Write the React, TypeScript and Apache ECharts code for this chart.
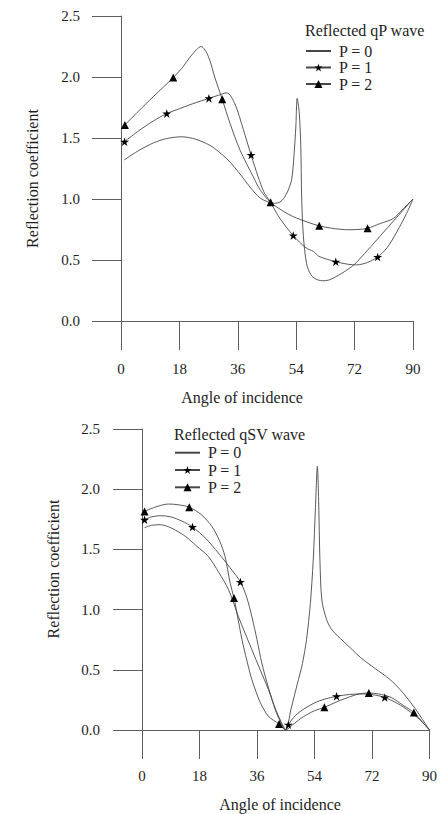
import React, { useEffect, useRef } from "react";
import * as echarts from "echarts";

// Angle of incidence (degrees) vs reflection coefficient, sampled along each curve.
const angleTicks = [0, 18, 36, 54, 72, 90];

// Reflected qP wave
const qpP0: number[][] = [
  [1, 1.32], [5, 1.39], [10, 1.46], [14, 1.495], [18.7, 1.51], [23, 1.49], [27.4, 1.44],
  [30, 1.39], [32.6, 1.33], [35, 1.26], [37.7, 1.17], [40, 1.09], [42.8, 1.01], [45.4, 0.975],
  [47.5, 0.965], [49, 0.975], [50.3, 1.01], [51.5, 1.07], [52.6, 1.16], [53.3, 1.35],
  [53.9, 1.6], [54.3, 1.825], [54.9, 1.72], [55.4, 1.45], [55.7, 1.0], [56.2, 0.7],
  [57.2, 0.47], [58.5, 0.38], [60, 0.345], [62, 0.33], [64, 0.335], [66, 0.36],
  [68, 0.39], [70, 0.425], [72, 0.465], [76, 0.58], [80, 0.7], [84, 0.82], [87, 0.91], [90, 1.0],
];
const qpP1: number[][] = [
  [5, 1.55], [10, 1.64], [18, 1.74], [22, 1.78], [30, 1.85], [32.6, 1.87], [35.1, 1.78],
  [37.7, 1.57], [42.3, 1.18], [44, 1.06], [45.9, 0.98], [49, 0.84], [57, 0.6], [59.3, 0.57],
  [61, 0.53], [70, 0.465], [72.6, 0.46], [76, 0.48], [82, 0.6], [85, 0.73], [88, 0.88], [90, 1.0],
];
const qpP1Marks: number[][] = [
  [1.1, 1.47], [14.1, 1.7], [27.1, 1.825], [40.1, 1.36], [53.1, 0.7], [66.2, 0.486], [79.1, 0.525],
];
const qpP2: number[][] = [
  [5, 1.71], [10, 1.84], [18.7, 2.07], [21.8, 2.18], [24.7, 2.25], [26.9, 2.17], [29, 1.99],
  [33.6, 1.62], [36.7, 1.4], [40.8, 1.18], [43, 1.07], [50, 0.9], [53.1, 0.855], [57.5, 0.81],
  [65, 0.76], [70, 0.748], [73, 0.75], [80, 0.8], [83.9, 0.84], [87, 0.92], [90, 1.0],
];
const qpP2Marks: number[][] = [
  [1.2, 1.607], [16.1, 1.995], [31.2, 1.817], [46.1, 0.973], [61.1, 0.78], [76, 0.76],
];

// Reflected qSV wave
const qsvP0: number[][] = [
  [0.8, 1.68], [3, 1.7], [5.7, 1.705], [9, 1.68], [13.5, 1.61], [17, 1.53], [20.8, 1.44],
  [24, 1.31], [27.1, 1.165], [30.2, 0.94], [34.4, 0.667], [37, 0.5], [39.6, 0.335],
  [42, 0.16], [43.7, 0.06], [45, 0], [46.7, 0.18], [48.6, 0.38], [50.2, 0.55], [51.5, 0.75],
  [52.7, 1.05], [53.6, 1.41], [54.3, 1.85], [54.9, 2.19], [55.3, 1.9], [55.7, 1.41],
  [56.3, 1.08], [57.8, 0.916], [59.5, 0.83], [62.9, 0.74], [65.5, 0.675], [68.5, 0.6],
  [73, 0.51], [77.6, 0.42], [81, 0.33], [84.9, 0.2], [87.5, 0.1], [90, 0],
];
const qsvP1: number[][] = [
  [3, 1.77], [5.7, 1.78], [9, 1.77], [12.5, 1.735], [20, 1.59], [23.9, 1.47], [27.5, 1.35],
  [32.8, 1.1], [34.4, 0.94], [36, 0.75], [37.5, 0.556], [39.6, 0.35], [41.7, 0.17],
  [43.5, 0.06], [45, 0], [48, 0.12], [51, 0.18], [54, 0.225], [57, 0.255], [65, 0.295],
  [69.3, 0.3], [73, 0.29], [80, 0.22], [84, 0.15], [87, 0.085], [90, 0],
];
const qsvP1Marks: number[][] = [
  [0.8, 1.747], [15.8, 1.686], [30.8, 1.23], [45.8, 0.044], [60.9, 0.28], [76, 0.27],
];
const qsvP2: number[][] = [
  [4, 1.85], [8.3, 1.877], [11.5, 1.87], [18.5, 1.79], [21.9, 1.69], [24.3, 1.57], [26, 1.44],
  [27.6, 1.22], [30, 0.93], [31.3, 0.75], [32.8, 0.58], [34.4, 0.418], [37, 0.23],
  [39.6, 0.113], [45, 0], [47, 0.04], [50.5, 0.11], [54, 0.16], [61, 0.235], [65, 0.275],
  [68, 0.3], [74, 0.3], [78, 0.27], [82, 0.2], [88, 0.06], [90, 0],
];
const qsvP2Marks: number[][] = [
  [0.8, 1.815], [14.8, 1.85], [28.8, 1.096], [42.9, 0.05], [57.1, 0.188], [71, 0.307], [85.1, 0.146],
];

const seriesNames = ["P = 0", "P = 1", "P = 2"];
const panelTitles = ["Reflected qP wave", "Reflected qSV wave"];
const xName = "Angle of incidence";
const yName = "Reflection coefficient";

const FONT = "'Liberation Serif', 'Times New Roman', serif";
const INK = "#1e1e1e";
const LINE = "#474747";
const AXIS = "#5e5e5e";
const STAR =
  "path://M0,-10L2.245,-3.09L9.51,-3.09L3.633,1.18L5.88,8.09L0,3.82L-5.88,8.09L-3.633,1.18L-9.51,-3.09L-2.245,-3.09Z";

// Curve samples drawn without symbols; marker points carry the series symbol.
function withMarks(curve: number[][], marks: number[][]) {
  const items: any[] = curve
    .filter(([x]) => !marks.some(([mx]) => Math.abs(mx - x) < 0.6))
    .map((p) => ({ value: p, symbol: "none" }));
  marks.forEach((p) => items.push({ value: p }));
  items.sort((a, b) => a.value[0] - b.value[0]);
  return items;
}

function lineSeries(name: string, idx: number, data: any[], symbol: string) {
  return {
    type: "line",
    name,
    xAxisIndex: idx,
    yAxisIndex: idx,
    data,
    symbol,
    symbolSize: symbol === "triangle" ? 8 : 9,
    symbolKeepAspect: true,
    showSymbol: symbol !== "none",
    showAllSymbol: true,
    smooth: 0.3,
    lineStyle: { color: LINE, width: 0.9 },
    itemStyle: { color: "#000" },
    emphasis: { disabled: true },
  };
}

function axisPair(idx: number, labelMarginX: number, labelMarginY: number) {
  const lineStyle = { color: AXIS, width: 1 };
  return {
    x: {
      type: "value",
      gridIndex: idx,
      min: 0,
      max: 90,
      interval: 18,
      axisLine: { show: true, lineStyle },
      axisTick: { show: true, length: 29, lineStyle },
      splitLine: { show: false },
      axisLabel: {
        margin: labelMarginX,
        fontSize: 15,
        fontFamily: FONT,
        color: INK,
        customValues: angleTicks,
      },
    },
    y: {
      type: "value",
      gridIndex: idx,
      min: 0,
      max: 2.5,
      interval: 0.5,
      axisLine: { show: true, lineStyle },
      axisTick: { show: true, length: 29, lineStyle },
      splitLine: { show: false },
      axisLabel: {
        margin: labelMarginY,
        fontSize: 15,
        fontFamily: FONT,
        color: INK,
        formatter: (v: number) => v.toFixed(1),
      },
    },
  };
}

function legendFor(left: number, top: number, gap: number) {
  return {
    orient: "vertical",
    left,
    top,
    padding: 0,
    itemWidth: 25,
    itemHeight: 10,
    itemGap: gap,
    selectedMode: false,
    textStyle: { fontSize: 16, fontFamily: FONT, color: INK, lineHeight: 14, padding: [0, 0, 0, 3] },
    data: [
      { name: seriesNames[0], itemStyle: { opacity: 0 } },
      { name: seriesNames[1] },
      { name: seriesNames[2] },
    ],
  };
}

function nameText(text: string, x: number, y: number, vertical: boolean) {
  return {
    type: "text",
    x,
    y,
    rotation: vertical ? Math.PI / 2 : 0,
    silent: true,
    style: {
      text,
      fontSize: 16,
      fontFamily: FONT,
      fill: INK,
      textAlign: "center",
      textVerticalAlign: "middle",
    },
  };
}

export default function App() {
  const ref = useRef<HTMLDivElement>(null);

  useEffect(() => {
    if (!ref.current) return;
    const chart = echarts.init(ref.current, null, { renderer: "svg" });
    const top = axisPair(0, 40, 41);
    const bottom = axisPair(1, 38, 42);

    chart.setOption({
      animation: false,
      backgroundColor: "#ffffff",
      grid: [
        { left: 121, top: 16, width: 292, height: 305 },
        { left: 142, top: 429, width: 288, height: 301 },
      ],
      xAxis: [top.x, bottom.x],
      yAxis: [top.y, bottom.y],
      title: [
        {
          text: panelTitles[0],
          left: 305,
          top: 22,
          padding: 0,
          textStyle: { fontSize: 16, fontFamily: FONT, fontWeight: "normal", color: INK },
        },
        {
          text: panelTitles[1],
          left: 174,
          top: 426,
          padding: 0,
          textStyle: { fontSize: 16, fontFamily: FONT, fontWeight: "normal", color: INK },
        },
      ],
      legend: [legendFor(305, 43, 0.5), legendFor(174, 444.7, 1.3)],
      graphic: [
        nameText(xName, 242, 397, false),
        nameText(xName, 280, 804, false),
        nameText(yName, 32, 178.5, true),
        nameText(yName, 53, 569, true),
      ],
      series: [
        lineSeries(seriesNames[0], 0, withMarks(qpP0, []), "none"),
        lineSeries(seriesNames[1], 0, withMarks(qpP1, qpP1Marks), STAR),
        lineSeries(seriesNames[2], 0, withMarks(qpP2, qpP2Marks), "triangle"),
        lineSeries(seriesNames[0], 1, withMarks(qsvP0, []), "none"),
        lineSeries(seriesNames[1], 1, withMarks(qsvP1, qsvP1Marks), STAR),
        lineSeries(seriesNames[2], 1, withMarks(qsvP2, qsvP2Marks), "triangle"),
      ],
    });

    return () => chart.dispose();
  }, []);

  return (
    <div
      ref={ref}
      style={{ position: "absolute", left: 0, top: 0, width: 440, height: 814, background: "#fff" }}
    />
  );
}
